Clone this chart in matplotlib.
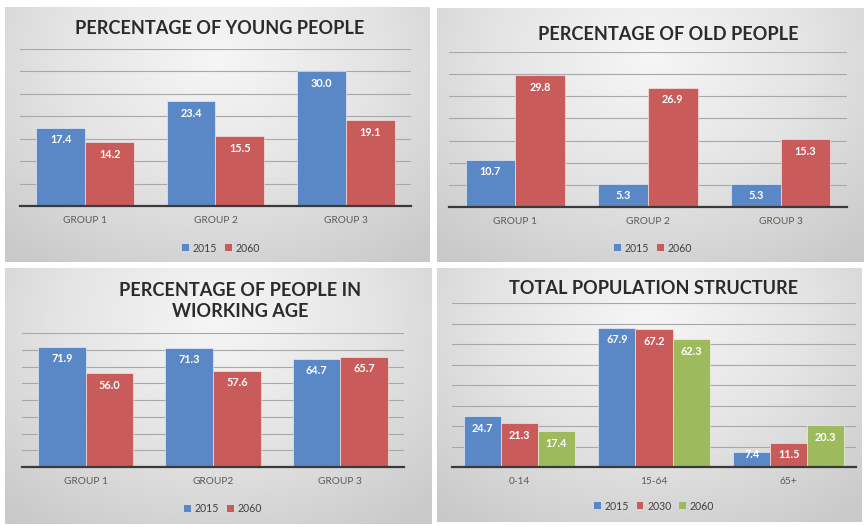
import numpy as np
import matplotlib
matplotlib.use("Agg")
import matplotlib.pyplot as plt
from matplotlib.colors import LinearSegmentedColormap
from matplotlib.patches import Patch

# ---------------- data ----------------
groups_a = ["GROUP 1", "GROUP 2", "GROUP 3"]
groups_work = ["GROUP 1", "GROUP2", "GROUP 3"]
age_bands = ["0-14", "15-64", "65+"]

young_2015 = [17.4, 23.4, 30.0]
young_2060 = [14.2, 15.5, 19.1]
old_2015 = [10.7, 5.3, 5.3]
old_2060 = [29.8, 26.9, 15.3]
work_2015 = [71.9, 71.3, 64.7]
work_2060 = [56.0, 57.6, 65.7]
total_2015 = [24.7, 67.9, 7.4]
total_2030 = [21.3, 67.2, 11.5]
total_2060 = [17.4, 62.3, 20.3]

years_two = ["2015", "2060"]
years_three = ["2015", "2030", "2060"]

# ---------------- style ----------------
plt.rcParams['font.family'] = ['Lato', 'DejaVu Sans']
BLUE, RED, GREEN = "#5A88C6", "#C95B5A", "#9DBB5D"
W, H = 865, 525
fig = plt.figure(figsize=(W / 100, H / 100), dpi=100)
fig.patch.set_facecolor("white")


def rect(x0, y0, x1, y1):
    return [x0 / W, 1 - y1 / H, (x1 - x0) / W, (y1 - y0) / H]


bg_cmap = LinearSegmentedColormap.from_list("bg", ["#f6f6f6", "#e4e4e4", "#c9c9c9"])


def background(x0, y0, x1, y1):
    ax = fig.add_axes(rect(x0, y0, x1, y1))
    yy, xx = np.mgrid[0:1:200j, 0:1:300j]
    r = np.sqrt(((xx - 0.5) / 0.75) ** 2 + ((yy - 0.2) / 1.0) ** 2)
    ax.imshow(np.clip(r, 0, 1), cmap=bg_cmap, vmin=0, vmax=1, extent=[0, 1, 1, 0],
              aspect="auto", interpolation="bilinear")
    ax.set_axis_off()
    return ax


def chart(box, cats, series, colors, labels, ymax, step, width, title, title_xy,
          legend_xy):
    x0, y0, x1, y1 = box
    ax = fig.add_axes(rect(x0, y0, x1, y1))
    ax.set_facecolor("none")
    n = len(series)
    x = np.arange(len(cats))
    px_per_unit = (y1 - y0) / ymax
    for i, (vals, c) in enumerate(zip(series, colors)):
        off = (i - (n - 1) / 2) * width
        ax.bar(x + off, vals, width, color=c, edgecolor=(1, 1, 1, 0.6),
               linewidth=0.6, zorder=3)
        for xi, v in zip(x + off, vals):
            hpx = v * px_per_unit
            d = min(12.0, hpx - 12.0)
            ax.annotate(f"{v:.1f}", (xi, v), xytext=(0, -d * 0.72),
                        textcoords="offset points", ha="center", va="center",
                        color="white", fontsize=7.8, fontweight="bold", zorder=4)
    ax.set_xlim(-0.5, len(cats) - 0.5)
    ax.set_ylim(0, ymax)
    ax.set_yticks(np.arange(0, ymax + 0.01, step))
    ax.yaxis.grid(True, color="#a8a8a8", linewidth=0.8, zorder=0)
    ax.set_axisbelow(True)
    ax.tick_params(axis="y", left=False, labelleft=False)
    ax.set_xticks(x)
    ax.set_xticklabels(cats, fontsize=7.3, color="#595959")
    ax.tick_params(axis="x", length=0, pad=7)
    for s in ["left", "right", "top"]:
        ax.spines[s].set_visible(False)
    ax.spines["bottom"].set_color("#3a3a3a")
    ax.spines["bottom"].set_linewidth(1.6)
    ax.spines["bottom"].set_zorder(5)

    fig.text(title_xy[0] / W, 1 - title_xy[1] / H, title, ha="center", va="center",
             fontsize=13.1, fontweight="bold", color="#2b2b2b", linespacing=1.3)
    handles = [Patch(facecolor=c, edgecolor="none") for c in colors]
    fig.legend(handles, labels, loc="center",
               bbox_to_anchor=(legend_xy[0] / W, 1 - legend_xy[1] / H),
               ncol=len(labels), frameon=False, fontsize=7.6,
               handlelength=0.65, handleheight=0.65, handletextpad=0.35,
               columnspacing=0.7, labelcolor="#404040")
    return ax


# backgrounds
background(5, 7, 430, 262)
background(437, 8, 864, 262)
background(5, 268, 432, 524)
background(437, 268, 862, 522)

chart((20, 49, 411, 206), groups_a, [young_2015, young_2060], [BLUE, RED], years_two,
      35, 5, 0.375, "PERCENTAGE OF YOUNG PEOPLE", (220, 28), (221, 248))
chart((449, 52, 847, 207), groups_a, [old_2015, old_2060], [BLUE, RED], years_two,
      35, 5, 0.375, "PERCENTAGE OF OLD PEOPLE", (668, 34), (653, 248))
chart((22, 333, 404, 467), groups_work, [work_2015, work_2060], [BLUE, RED], years_two,
      80, 10, 0.375, "PERCENTAGE OF PEOPLE IN\nWIORKING AGE", (240, 301), (223, 509))
chart((452, 303, 856, 467), age_bands, [total_2015, total_2030, total_2060],
      [BLUE, RED, GREEN], years_three, 80, 10, 0.275,
      "TOTAL POPULATION STRUCTURE", (654, 288), (654, 506))

fig.savefig("out.png", dpi=100, facecolor="white")
